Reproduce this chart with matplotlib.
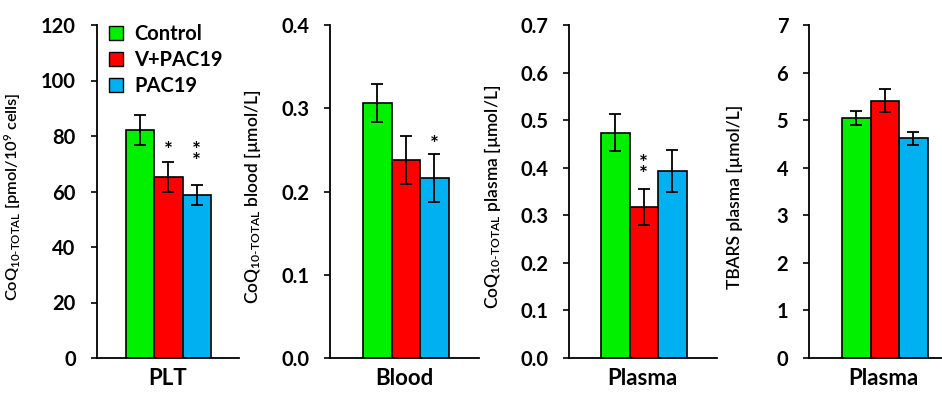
import matplotlib
matplotlib.use("Agg")
import matplotlib.pyplot as plt
from matplotlib.patches import Patch
import numpy as np

# ---------------- data ----------------
groups = ["Control", "V+PAC19", "PAC19"]
colors = ["#00f000", "#ff0000", "#00b0f0"]

panel_xlabels = ["PLT", "Blood", "Plasma", "Plasma"]
panel_ylabels = [
    r"CoQ$_{\mathregular{10\text{-}TOTAL}}$ [pmol/10$^{\mathregular{9}}$ cells]",
    r"CoQ$_{\mathregular{10\text{-}TOTAL}}$ blood [µmol/L]",
    r"CoQ$_{\mathregular{10\text{-}TOTAL}}$ plasma [µmol/L]",
    "TBARS plasma [µmol/L]",
]

plt_means = [82.2, 65.3, 58.6]
plt_errs = [5.5, 5.4, 3.6]
blood_means = [0.306, 0.238, 0.216]
blood_errs = [0.023, 0.029, 0.029]
cplasma_means = [0.474, 0.317, 0.393]
cplasma_errs = [0.038, 0.038, 0.044]
tbars_means = [5.04, 5.41, 4.62]
tbars_errs = [0.15, 0.24, 0.14]

plt_yticks = [0, 20, 40, 60, 80, 100, 120]
blood_yticks = [0.0, 0.1, 0.2, 0.3, 0.4]
cplasma_yticks = [0.0, 0.1, 0.2, 0.3, 0.4, 0.5, 0.6, 0.7]
tbars_yticks = [0, 1, 2, 3, 4, 5, 6, 7]

plt_ytick_labels = ["0", "20", "40", "60", "80", "100", "120"]
blood_ytick_labels = ["0.0", "0.1", "0.2", "0.3", "0.4"]
cplasma_ytick_labels = ["0.0", "0.1", "0.2", "0.3", "0.4", "0.5", "0.6", "0.7"]
tbars_ytick_labels = ["0", "1", "2", "3", "4", "5", "6", "7"]

# significance marks: (bar index, label, y value of the text anchor)
plt_sig = [(1, "*", 74.7), (2, "*\n*", 72.6)]
blood_sig = [(2, "*", 0.256)]
cplasma_sig = [(1, "*\n*", 0.397)]
tbars_sig = []

means = [plt_means, blood_means, cplasma_means, tbars_means]
errs = [plt_errs, blood_errs, cplasma_errs, tbars_errs]
yticks = [plt_yticks, blood_yticks, cplasma_yticks, tbars_yticks]
ytlabels = [plt_ytick_labels, blood_ytick_labels, cplasma_ytick_labels, tbars_ytick_labels]
sigs = [plt_sig, blood_sig, cplasma_sig, tbars_sig]

# ---------------- layout ----------------
W, H = 942, 394
FONT = "Lato"
plt.rcParams["font.family"] = [FONT, "DejaVu Sans"]
plt.rcParams["mathtext.fontset"] = "custom"
plt.rcParams["mathtext.rm"] = FONT
plt.rcParams["mathtext.it"] = FONT + ":italic"
plt.rcParams["mathtext.bf"] = FONT + ":bold"

fig = plt.figure(figsize=(W / 100, H / 100), dpi=100)

px_per_bar = 28.5
# (axis left px, left gap px, right gap px)
panel_geom = [(96.5, 29, 28), (330, 33, 30), (569, 32, 30), (809, 33, 30)]
ybase, ytop = 358, 25
ylabel_x = [23, 263, 503, 743]
ylabel_size = [11.8, 12.5, 12.5, 12.5]

x = np.arange(len(groups))
for i in range(4):
    left, gl, gr = panel_geom[i]
    xlo = -0.5 - gl / px_per_bar
    xhi = 2.5 + gr / px_per_bar
    width_px = (xhi - xlo) * px_per_bar
    ax = fig.add_axes([left / W, (H - ybase) / H, width_px / W, (ybase - ytop) / H])
    ax.bar(x, means[i], width=1.0, color=colors, edgecolor="black", linewidth=1.2,
           zorder=2)
    ax.errorbar(x, means[i], yerr=errs[i], fmt="none", ecolor="black",
                elinewidth=1.3, capsize=4.5, capthick=1.3, zorder=3)
    ax.set_xlim(xlo, xhi)
    ax.set_ylim(yticks[i][0], yticks[i][-1])
    ax.set_yticks(yticks[i])
    ax.set_yticklabels(ytlabels[i], fontsize=14.5, fontweight="bold")
    ax.set_xticks([])
    ax.tick_params(axis="y", direction="out", length=4, width=1.2, pad=11)
    for s in ["top", "right"]:
        ax.spines[s].set_visible(False)
    for s in ["left", "bottom"]:
        ax.spines[s].set_linewidth(1.3)
    ax.set_xlabel(panel_xlabels[i], fontsize=16, fontweight="bold", labelpad=7)
    ax.yaxis.set_label_coords(ylabel_x[i] / W, 0.5, transform=fig.transFigure)
    ax.set_ylabel(panel_ylabels[i], fontsize=ylabel_size[i], fontweight="semibold")
    for bi, lab, yv in sigs[i]:
        ax.text(x[bi], yv, lab, ha="center", va="center", fontsize=15,
                fontweight="bold", linespacing=0.45, zorder=4)
    if i == 0:
        handles = [Patch(facecolor=c, edgecolor="black", linewidth=1.0) for c in colors]
        ax.legend(handles, groups, loc="upper left",
                  bbox_to_anchor=(91 / W, 1 - 6 / H), bbox_transform=fig.transFigure,
                  frameon=False, handlelength=0.7, handleheight=0.7,
                  handletextpad=0.55, labelspacing=0.3,
                  prop={"family": FONT, "weight": "bold", "size": 14.5})

fig.savefig("out.png", dpi=100)
